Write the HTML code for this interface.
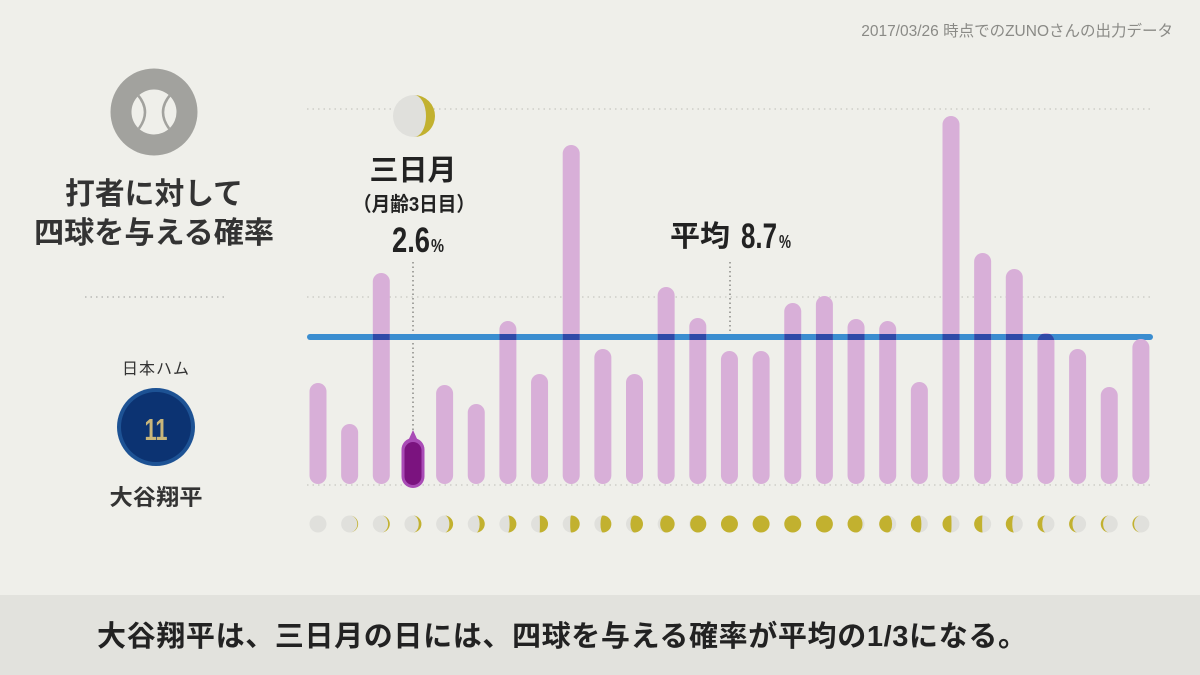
<!DOCTYPE html>
<html><head><meta charset="utf-8"><style>
html,body{margin:0;padding:0;background:#efefea;}
svg{display:block;}
text{font-family:"Liberation Sans","Noto Sans CJK JP",sans-serif;}
</style></head><body>
<svg width="1200" height="675" viewBox="0 0 1200 675" xmlns="http://www.w3.org/2000/svg">
<rect width="1200" height="675" fill="#efefea"/>
<text x="1173" y="36" font-size="15.5" fill="#8a8a86" text-anchor="end">2017/03/26 時点でのZUNOさんの出力データ</text>

<!-- ball icon -->
<circle cx="154" cy="112" r="43.5" fill="#a2a29e"/>
<circle cx="154" cy="112" r="22.5" fill="#efefea"/>
<clipPath id="ball"><circle cx="154" cy="112" r="22.5"/></clipPath>
<g clip-path="url(#ball)" fill="none" stroke="#a2a29e" stroke-width="2.5">
<path d="M137,94 Q153,112 137,131"/>
<path d="M171,94 Q155,112 171,131"/>
</g>
<text x="154" y="204" font-size="30" font-weight="bold" fill="#333" text-anchor="middle" textLength="178" lengthAdjust="spacingAndGlyphs">打者に対して</text>
<text x="154" y="243" font-size="30" font-weight="bold" fill="#333" text-anchor="middle" textLength="240" lengthAdjust="spacingAndGlyphs">四球を与える確率</text>
<line x1="85" y1="297" x2="225" y2="297" stroke="#b8b8b4" stroke-width="1.5" stroke-dasharray="1.5 4"/>

<text x="156" y="374" font-size="16" fill="#333" text-anchor="middle" letter-spacing="1">日本ハム</text>
<circle cx="156" cy="427" r="39" fill="#1d5294"/>
<circle cx="156" cy="427" r="35" fill="#0c3372"/>
<text x="156" y="440" font-size="31" font-weight="bold" fill="#c9b67a" text-anchor="middle" textLength="23" lengthAdjust="spacingAndGlyphs">11</text>
<text x="156" y="505" font-size="22" font-weight="bold" fill="#333" text-anchor="middle" textLength="93" lengthAdjust="spacingAndGlyphs">大谷翔平</text>

<!-- grid -->
<g stroke="#cdcdc8" stroke-width="1.5" stroke-dasharray="1.5 4">
<line x1="307" y1="109" x2="1153" y2="109"/>
<line x1="307" y1="297" x2="1153" y2="297"/>
<line x1="307" y1="485" x2="1153" y2="485"/>
</g>

<!-- top moon -->
<circle cx="414" cy="116" r="21" fill="#e0e0dc"/>
<path d="M414,95 A21 21 0 0 1 414,137 A12 21 0 0 0 414,95 Z" fill="#c2b12f"/>

<!-- annotation -->
<text x="413" y="180" font-size="29" font-weight="bold" fill="#222" text-anchor="middle">三日月</text>
<text x="414" y="211" font-size="20" font-weight="bold" fill="#222" text-anchor="middle" textLength="122" lengthAdjust="spacingAndGlyphs">（月齢3日目）</text>
<text x="392" y="252" font-size="35" font-weight="bold" fill="#222" textLength="38" lengthAdjust="spacingAndGlyphs">2.6</text>
<text x="431" y="252" font-size="18" font-weight="bold" fill="#222" textLength="13" lengthAdjust="spacingAndGlyphs">%</text>
<text x="670" y="246" font-size="29" font-weight="bold" fill="#222" textLength="60" lengthAdjust="spacingAndGlyphs">平均</text>
<text x="741" y="248" font-size="35" font-weight="bold" fill="#222" textLength="36" lengthAdjust="spacingAndGlyphs">8.7</text>
<text x="779" y="248" font-size="18" font-weight="bold" fill="#222" textLength="12" lengthAdjust="spacingAndGlyphs">%</text>
<g stroke="#8a8a86" stroke-width="1.5" stroke-dasharray="1.5 3">
<line x1="413" y1="262" x2="413" y2="430"/>
<line x1="730" y1="262" x2="730" y2="333"/>
</g>

<!-- blue average line -->
<line x1="310" y1="337" x2="1150" y2="337" stroke="#3a8dd0" stroke-width="6" stroke-linecap="round"/>

<!-- bars -->
<g fill="#d8afd8">
<rect x="309.5" y="383" width="17" height="101" rx="8.5"/>
<rect x="341.15" y="424" width="17" height="60" rx="8.5"/>
<rect x="372.8" y="273" width="17" height="211" rx="8.5"/>
<rect x="436.1" y="385" width="17" height="99" rx="8.5"/>
<rect x="467.75" y="404" width="17" height="80" rx="8.5"/>
<rect x="499.4" y="321" width="17" height="163" rx="8.5"/>
<rect x="531.05" y="374" width="17" height="110" rx="8.5"/>
<rect x="562.7" y="145" width="17" height="339" rx="8.5"/>
<rect x="594.35" y="349" width="17" height="135" rx="8.5"/>
<rect x="626" y="374" width="17" height="110" rx="8.5"/>
<rect x="657.65" y="287" width="17" height="197" rx="8.5"/>
<rect x="689.3" y="318" width="17" height="166" rx="8.5"/>
<rect x="720.95" y="351" width="17" height="133" rx="8.5"/>
<rect x="752.6" y="351" width="17" height="133" rx="8.5"/>
<rect x="784.25" y="303" width="17" height="181" rx="8.5"/>
<rect x="815.9" y="296" width="17" height="188" rx="8.5"/>
<rect x="847.55" y="319" width="17" height="165" rx="8.5"/>
<rect x="879.2" y="321" width="17" height="163" rx="8.5"/>
<rect x="910.85" y="382" width="17" height="102" rx="8.5"/>
<rect x="942.5" y="116" width="17" height="368" rx="8.5"/>
<rect x="974.15" y="253" width="17" height="231" rx="8.5"/>
<rect x="1005.8" y="269" width="17" height="215" rx="8.5"/>
<rect x="1037.45" y="333" width="17" height="151" rx="8.5"/>
<rect x="1069.1" y="349" width="17" height="135" rx="8.5"/>
<rect x="1100.75" y="387" width="17" height="97" rx="8.5"/>
<rect x="1132.4" y="339" width="17" height="145" rx="8.5"/>
</g>
<clipPath id="bc">
<rect x="372.8" y="273" width="17" height="211" rx="8.5"/>
<rect x="499.4" y="321" width="17" height="163" rx="8.5"/>
<rect x="562.7" y="145" width="17" height="339" rx="8.5"/>
<rect x="657.65" y="287" width="17" height="197" rx="8.5"/>
<rect x="689.3" y="318" width="17" height="166" rx="8.5"/>
<rect x="784.25" y="303" width="17" height="181" rx="8.5"/>
<rect x="815.9" y="296" width="17" height="188" rx="8.5"/>
<rect x="847.55" y="319" width="17" height="165" rx="8.5"/>
<rect x="879.2" y="321" width="17" height="163" rx="8.5"/>
<rect x="942.5" y="116" width="17" height="368" rx="8.5"/>
<rect x="974.15" y="253" width="17" height="231" rx="8.5"/>
<rect x="1005.8" y="269" width="17" height="215" rx="8.5"/>
<rect x="1037.45" y="333" width="17" height="151" rx="8.5"/>
</clipPath>
<rect x="300" y="334" width="860" height="6" fill="#2f4aa8" clip-path="url(#bc)"/>

<!-- highlighted bar -->
<path d="M408,441 L413,430 L418,441 Z" fill="#a94bb6"/>
<rect x="401.5" y="438" width="23" height="50" rx="11.5" fill="#a94bb6"/>
<rect x="404.5" y="442" width="17" height="43" rx="8.5" fill="#7b137f"/>

<!-- moon phases -->
<g fill="#e0e0dc">
<circle cx="318" cy="524" r="8.5"/><circle cx="349.65" cy="524" r="8.5"/><circle cx="381.3" cy="524" r="8.5"/>
<circle cx="412.95" cy="524" r="8.5"/><circle cx="444.6" cy="524" r="8.5"/><circle cx="476.25" cy="524" r="8.5"/>
<circle cx="507.9" cy="524" r="8.5"/><circle cx="539.55" cy="524" r="8.5"/><circle cx="571.2" cy="524" r="8.5"/>
<circle cx="602.85" cy="524" r="8.5"/><circle cx="634.5" cy="524" r="8.5"/><circle cx="666.15" cy="524" r="8.5"/>
<circle cx="697.8" cy="524" r="8.5"/><circle cx="856.05" cy="524" r="8.5"/><circle cx="887.7" cy="524" r="8.5"/>
<circle cx="919.35" cy="524" r="8.5"/><circle cx="951" cy="524" r="8.5"/><circle cx="982.65" cy="524" r="8.5"/>
<circle cx="1014.3" cy="524" r="8.5"/><circle cx="1045.95" cy="524" r="8.5"/><circle cx="1077.6" cy="524" r="8.5"/>
<circle cx="1109.25" cy="524" r="8.5"/><circle cx="1140.9" cy="524" r="8.5"/>
</g>
<g fill="#c2b12f">
<path transform="translate(349.65,524)" d="M0,-8.5 A8.5 8.5 0 0 1 0,8.5 A7.65 8.5 0 0 0 0,-8.5Z"/>
<path transform="translate(381.3,524)" d="M0,-8.5 A8.5 8.5 0 0 1 0,8.5 A6.8 8.5 0 0 0 0,-8.5Z"/>
<path transform="translate(412.95,524)" d="M0,-8.5 A8.5 8.5 0 0 1 0,8.5 A5.78 8.5 0 0 0 0,-8.5Z"/>
<path transform="translate(444.6,524)" d="M0,-8.5 A8.5 8.5 0 0 1 0,8.5 A4.76 8.5 0 0 0 0,-8.5Z"/>
<path transform="translate(476.25,524)" d="M0,-8.5 A8.5 8.5 0 0 1 0,8.5 A3.4 8.5 0 0 0 0,-8.5Z"/>
<path transform="translate(507.9,524)" d="M0,-8.5 A8.5 8.5 0 0 1 0,8.5 A1.7 8.5 0 0 0 0,-8.5Z"/>
<path transform="translate(539.55,524)" d="M0,-8.5 A8.5 8.5 0 0 1 0,8.5 A0.34 8.5 0 0 0 0,-8.5Z"/>
<path transform="translate(571.2,524)" d="M0,-8.5 A8.5 8.5 0 0 1 0,8.5 A1.02 8.5 0 0 1 0,-8.5Z"/>
<path transform="translate(602.85,524)" d="M0,-8.5 A8.5 8.5 0 0 1 0,8.5 A2.38 8.5 0 0 1 0,-8.5Z"/>
<path transform="translate(634.5,524)" d="M0,-8.5 A8.5 8.5 0 0 1 0,8.5 A4.08 8.5 0 0 1 0,-8.5Z"/>
<path transform="translate(666.15,524)" d="M0,-8.5 A8.5 8.5 0 0 1 0,8.5 A5.95 8.5 0 0 1 0,-8.5Z"/>
<path transform="translate(697.8,524)" d="M0,-8.5 A8.5 8.5 0 0 1 0,8.5 A7.65 8.5 0 0 1 0,-8.5Z"/>
<circle cx="729.45" cy="524" r="8.5"/><circle cx="761.1" cy="524" r="8.5"/>
<circle cx="792.75" cy="524" r="8.5"/><circle cx="824.4" cy="524" r="8.5"/>
<path transform="translate(856.05,524) scale(-1,1)" d="M0,-8.5 A8.5 8.5 0 0 1 0,8.5 A6.46 8.5 0 0 1 0,-8.5Z"/>
<path transform="translate(887.7,524) scale(-1,1)" d="M0,-8.5 A8.5 8.5 0 0 1 0,8.5 A4.42 8.5 0 0 1 0,-8.5Z"/>
<path transform="translate(919.35,524) scale(-1,1)" d="M0,-8.5 A8.5 8.5 0 0 1 0,8.5 A2.04 8.5 0 0 1 0,-8.5Z"/>
<path transform="translate(951,524) scale(-1,1)" d="M0,-8.5 A8.5 8.5 0 0 1 0,8.5 A0.51 8.5 0 0 1 0,-8.5Z"/>
<path transform="translate(982.65,524) scale(-1,1)" d="M0,-8.5 A8.5 8.5 0 0 1 0,8.5 A0.51 8.5 0 0 0 0,-8.5Z"/>
<path transform="translate(1014.3,524) scale(-1,1)" d="M0,-8.5 A8.5 8.5 0 0 1 0,8.5 A2.04 8.5 0 0 0 0,-8.5Z"/>
<path transform="translate(1045.95,524) scale(-1,1)" d="M0,-8.5 A8.5 8.5 0 0 1 0,8.5 A3.74 8.5 0 0 0 0,-8.5Z"/>
<path transform="translate(1077.6,524) scale(-1,1)" d="M0,-8.5 A8.5 8.5 0 0 1 0,8.5 A5.1 8.5 0 0 0 0,-8.5Z"/>
<path transform="translate(1109.25,524) scale(-1,1)" d="M0,-8.5 A8.5 8.5 0 0 1 0,8.5 A6.12 8.5 0 0 0 0,-8.5Z"/>
<path transform="translate(1140.9,524) scale(-1,1)" d="M0,-8.5 A8.5 8.5 0 0 1 0,8.5 A6.8 8.5 0 0 0 0,-8.5Z"/>
</g>

<!-- banner -->
<rect x="0" y="595" width="1200" height="80" fill="#e2e2dd"/>
<text x="97" y="646" font-size="29" font-weight="bold" fill="#222" textLength="930" lengthAdjust="spacing">大谷翔平は、三日月の日には、四球を与える確率が平均の1/3になる。</text>
</svg>
</body></html>
